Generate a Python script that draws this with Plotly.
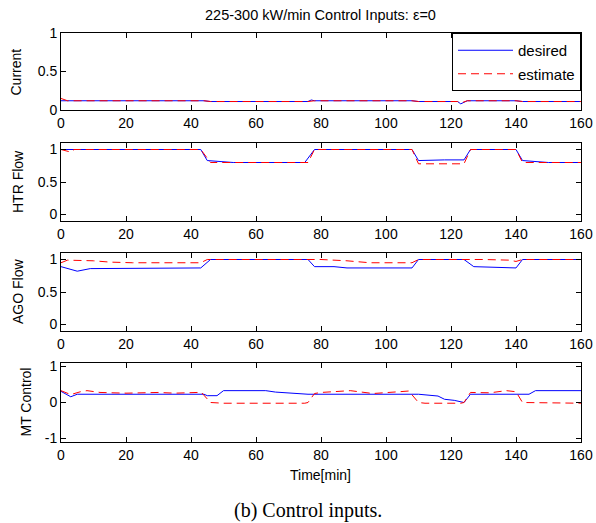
import plotly.graph_objects as go

# Time breakpoints [min] and values for each control input
cur_t_des = [0, 44, 46, 76, 77, 78, 108, 110, 122, 123, 125, 140, 142, 160]
cur_des = [0.12, 0.12, 0.11, 0.11, 0.13, 0.12, 0.12, 0.11, 0.11, 0.08, 0.12, 0.12, 0.11, 0.11]
cur_t_est = [0, 2, 44, 46, 76, 78, 108, 110, 122, 123, 125, 140, 142, 160]
cur_est = [0.15, 0.12, 0.12, 0.11, 0.11, 0.12, 0.12, 0.11, 0.11, 0.09, 0.12, 0.12, 0.11, 0.11]

htr_t_des = [0, 43, 45, 49, 53, 75, 78, 108, 110, 118, 124, 126, 140, 142, 147, 150, 160]
htr_des = [1.0, 1.0, 0.83, 0.82, 0.80, 0.80, 1.0, 1.0, 0.83, 0.84, 0.84, 1.0, 1.0, 0.83, 0.81, 0.80, 0.80]
htr_t_est = [0, 3, 4, 43, 46, 76, 78, 108, 110, 124, 126, 140, 142, 160]
htr_est = [1.0, 0.96, 1.0, 1.0, 0.80, 0.80, 1.0, 1.0, 0.78, 0.78, 1.0, 1.0, 0.80, 0.80]

ago_t_des = [0, 5, 9, 16, 20, 43, 46, 76, 78, 84, 88, 108, 110, 124, 127, 133, 136, 140, 142, 160]
ago_des = [0.89, 0.82, 0.86, 0.86, 0.87, 0.87, 1.0, 1.0, 0.89, 0.89, 0.87, 0.87, 1.0, 1.0, 0.89, 0.88, 0.87, 0.87, 1.0, 1.0]
ago_t_est = [0, 2, 10, 15, 22, 43, 45, 80, 88, 95, 108, 110, 130, 138, 140, 142, 160]
ago_est = [0.95, 0.99, 0.98, 0.96, 0.95, 0.95, 1.0, 1.0, 0.98, 0.95, 0.95, 1.0, 1.0, 0.99, 0.97, 1.0, 1.0]

mt_t_des = [0, 3, 5, 44, 45, 48, 50, 63, 66, 72, 76, 110, 112, 116, 118, 121, 124, 126, 144, 146, 160]
mt_des = [0.31, 0.16, 0.23, 0.23, 0.19, 0.19, 0.33, 0.33, 0.29, 0.26, 0.23, 0.23, 0.21, 0.18, 0.09, 0.06, 0.0, 0.23, 0.23, 0.33, 0.33]
mt_t_est = [0, 3, 6, 8, 12, 20, 30, 35, 42, 43, 46, 50, 75, 76, 78, 80, 89, 96, 104, 107, 110, 112, 123, 124, 126, 132, 137, 140, 142, 160]
mt_est = [0.33, 0.22, 0.30, 0.33, 0.28, 0.26, 0.28, 0.26, 0.28, 0.30, 0.0, -0.02, -0.02, 0.0, 0.25, 0.28, 0.33, 0.25, 0.30, 0.32, 0.0, -0.02, -0.02, 0.0, 0.28, 0.27, 0.33, 0.30, 0.0, -0.02]

x_ticks = [0, 20, 40, 60, 80, 100, 120, 140, 160]

panels = [
    ("Current", cur_t_des, cur_des, cur_t_est, cur_est, [0, 1], [0, 0.5, 1], ["0", "0.5", "1"]),
    ("HTR Flow", htr_t_des, htr_des, htr_t_est, htr_est, [-0.1, 1.1], [0, 0.5, 1], ["0", "0.5", "1"]),
    ("AGO Flow", ago_t_des, ago_des, ago_t_est, ago_est, [-0.1, 1.1], [0, 0.5, 1], ["0", "0.5", "1"]),
    ("MT Control", mt_t_des, mt_des, mt_t_est, mt_est, [-1.1, 1.1], [-1, 0, 1], ["-1", "0", "1"]),
]

W, H = 596, 523
x_left, x_right = 61, 581
rows_px = [(33, 110), (143, 221), (253, 331), (363, 442)]
ylabel_x = [15, 18, 18, 25]

FONT = "Liberation Sans, Arial, sans-serif"
fig = go.Figure()
layout = {}
annotations = []

for i, (name, td, yd, te, ye, yr, yt, ytl) in enumerate(panels):
    k = "" if i == 0 else str(i + 1)
    fig.add_trace(go.Scatter(x=td, y=yd, mode="lines", name="desired",
                             line=dict(color="#0000ff", width=1), legendgroup="a",
                             xaxis="x" + k, yaxis="y" + k, showlegend=(i == 0)))
    fig.add_trace(go.Scatter(x=te, y=ye, mode="lines", name="estimate",
                             line=dict(color="#ff0000", width=1, dash="8px,5px"), legendgroup="b",
                             xaxis="x" + k, yaxis="y" + k, showlegend=(i == 0)))
    top, bot = rows_px[i]
    axis_common = dict(showline=True, linecolor="black", linewidth=1, mirror="ticks",
                       ticks="inside", ticklen=5, tickcolor="black", showgrid=False,
                       zeroline=False, automargin=False,
                       tickfont=dict(family=FONT, size=14, color="black"))
    layout["xaxis" + k] = dict(domain=[x_left / W, x_right / W], range=[0, 160],
                               tickvals=x_ticks, anchor="y" + k, **axis_common)
    layout["yaxis" + k] = dict(domain=[1 - bot / H, 1 - top / H], range=yr,
                               tickvals=yt, ticktext=ytl, anchor="x" + k, **axis_common)
    annotations.append(dict(text=name, x=ylabel_x[i] / W, y=1 - (top + bot) / 2 / H,
                            xref="paper", yref="paper", textangle=-90, showarrow=False,
                            xanchor="center", yanchor="middle",
                            font=dict(family=FONT, size=14, color="black")))

annotations.append(dict(text="225-300 kW/min Control Inputs: ε=0", x=320 / W, y=1 - 15 / H,
                        xref="paper", yref="paper", showarrow=False,
                        xanchor="center", yanchor="middle",
                        font=dict(family=FONT, size=14.5, color="black")))
annotations.append(dict(text="Time[min]", x=320 / W, y=1 - 475 / H,
                        xref="paper", yref="paper", showarrow=False,
                        xanchor="center", yanchor="middle",
                        font=dict(family=FONT, size=14, color="black")))
annotations.append(dict(text="(b) Control inputs.", x=308 / W, y=1 - 510 / H,
                        xref="paper", yref="paper", showarrow=False,
                        xanchor="center", yanchor="middle",
                        font=dict(family="Liberation Serif, Times New Roman, serif", size=20, color="black")))

fig.update_layout(
    width=W, height=H, margin=dict(l=0, r=0, t=0, b=0, autoexpand=False),
    paper_bgcolor="white", plot_bgcolor="white",
    annotations=annotations,
    legend=dict(x=x_right / W, xanchor="right", y=1 - 33 / H, yanchor="top",
                bgcolor="white", bordercolor="black", borderwidth=1,
                font=dict(family=FONT, size=15, color="black"),
                tracegroupgap=1, itemwidth=55),
    **layout,
)

fig.write_html("out.html")
